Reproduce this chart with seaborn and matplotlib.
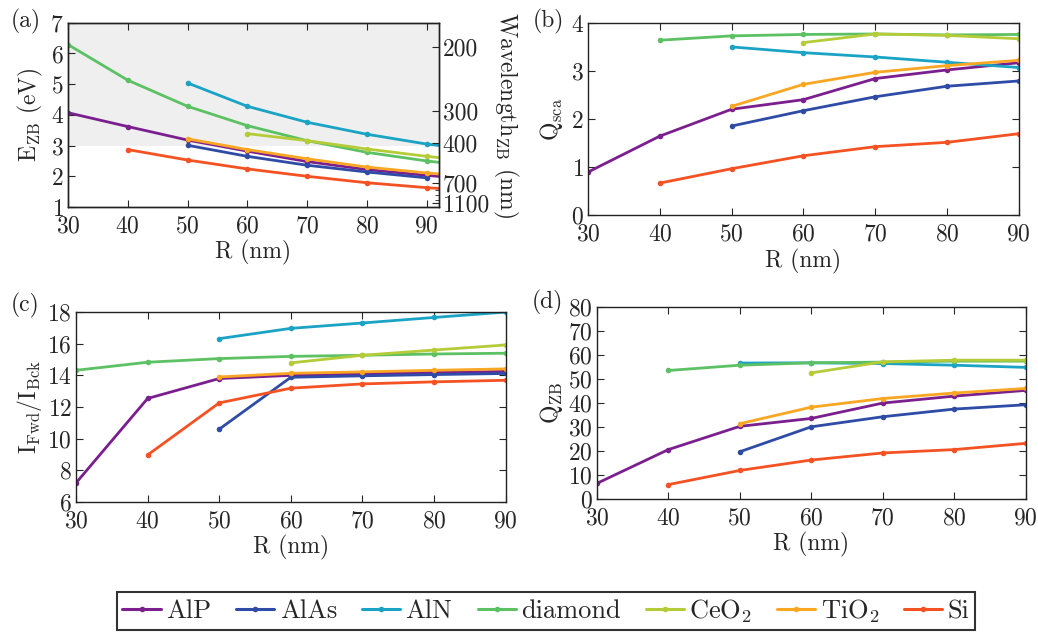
import numpy as np
import pandas as pd
import matplotlib
matplotlib.use("Agg")
import matplotlib.pyplot as plt
from matplotlib.lines import Line2D
import seaborn as sns

# Data
materials = ["AlP", "AlAs", "AlN", "diamond", "CeO2", "TiO2", "Si"]
labels = ["AlP", "AlAs", "AlN", "diamond", r"CeO$_2$", r"TiO$_2$", "Si"]
colors = ["#7B1F8E", "#2E4BA6", "#1AA3C4", "#5CC163", "#B5CB38", "#F9A623", "#F45223"]

R = [30, 40, 50, 60, 70, 80, 90]
R_a = [30, 40, 50, 60, 70, 80, 90, 100]

# (a) E_ZB (eV)
E_zb = {
    "AlP":     [4.07, 3.62, 3.18, 2.82, 2.48, 2.22, 2.03, 1.87],
    "AlAs":    [None, None, 3.01, 2.65, 2.36, 2.14, 1.95, None],
    "AlN":     [None, None, 5.04, 4.28, 3.76, 3.37, 3.05, 2.82],
    "diamond": [6.29, 5.13, 4.28, 3.65, 3.16, 2.78, 2.50, 2.28],
    "CeO2":    [None, None, None, 3.39, 3.16, 2.89, 2.65, 2.45],
    "TiO2":    [None, None, 3.22, 2.87, 2.57, 2.30, 2.11, 1.94],
    "Si":      [None, 2.87, 2.53, 2.24, 2.00, 1.79, 1.63, 1.50],
}

# (b) Q_sca
Q_sca = {
    "AlP":     [0.90, 1.65, 2.21, 2.41, 2.85, 3.03, 3.18],
    "AlAs":    [None, None, 1.86, 2.18, 2.47, 2.69, 2.80],
    "AlN":     [None, None, 3.51, 3.39, 3.30, 3.19, 3.08],
    "diamond": [None, 3.65, 3.74, 3.77, 3.78, 3.76, 3.77],
    "CeO2":    [None, None, None, 3.60, 3.78, 3.75, 3.68],
    "TiO2":    [None, None, 2.27, 2.73, 2.98, 3.12, 3.23],
    "Si":      [None, 0.67, 0.97, 1.24, 1.43, 1.52, 1.70],
}

# (c) I_Fwd / I_Bck
I_ratio = {
    "AlP":     [7.2, 12.54, 13.8, 14.0, 14.1, 14.18, 14.25],
    "AlAs":    [None, None, 10.6, 13.88, 13.97, 14.05, 14.12],
    "AlN":     [None, None, 16.32, 16.97, 17.31, 17.66, 18.0],
    "diamond": [14.32, 14.83, 15.06, 15.2, 15.27, 15.35, 15.4],
    "CeO2":    [None, None, None, 14.79, 15.27, 15.6, 15.92],
    "TiO2":    [None, None, 13.9, 14.13, 14.22, 14.32, 14.41],
    "Si":      [None, 8.97, 12.26, 13.19, 13.46, 13.59, 13.69],
}

# (d) Q_ZB
Q_zb = {
    "AlP":     [6.5, 20.6, 30.3, 33.6, 40.0, 42.9, 45.3],
    "AlAs":    [None, None, 19.7, 30.1, 34.3, 37.5, 39.3],
    "AlN":     [None, None, 56.7, 56.8, 56.5, 55.8, 54.9],
    "diamond": [None, 53.6, 55.8, 56.8, 57.1, 57.5, 57.5],
    "CeO2":    [None, None, None, 52.6, 57.2, 57.9, 57.9],
    "TiO2":    [None, None, 31.4, 38.3, 41.9, 44.2, 46.1],
    "Si":      [None, 6.0, 11.9, 16.25, 19.2, 20.6, 23.2],
}

wl_ticks = [200, 300, 400, 700, 1100]
wl_minor = [800, 900, 1000]


def to_long(table, radii):
    rows = []
    for m in materials:
        for r, v in zip(radii, table[m]):
            if v is not None:
                rows.append({"R": r, "value": v, "material": m})
    return pd.DataFrame(rows)


sns.set_style("ticks")
plt.rcParams.update({
    "font.family": "serif",
    "font.serif": ["cmr10", "DejaVu Serif"],
    "mathtext.fontset": "cm",
    "axes.unicode_minus": False,
    "axes.formatter.use_mathtext": True,
    "font.size": 17,
    "xtick.direction": "in",
    "ytick.direction": "in",
    "xtick.top": True,
    "ytick.right": True,
    "axes.linewidth": 1.0,
    "axes.edgecolor": "#222222",
})

fig = plt.figure(figsize=(10.38, 6.33), dpi=100)
ax_a = fig.add_axes([0.0655, 0.673, 0.357, 0.291])
ax_b = fig.add_axes([0.5665, 0.660, 0.415, 0.303])
ax_c = fig.add_axes([0.0732, 0.207, 0.414, 0.300])
ax_d = fig.add_axes([0.575, 0.2117, 0.413, 0.303])

palette = dict(zip(materials, colors))


def draw(ax, table, radii):
    df = to_long(table, radii)
    sns.lineplot(data=df, x="R", y="value", hue="material", hue_order=materials,
                 palette=palette, marker="o", markersize=4, markeredgewidth=0,
                 linewidth=2, estimator=None, legend=False, ax=ax)
    ax.set_xticks(R)
    ax.set_xlabel("R (nm)", labelpad=2)
    ax.tick_params(length=5, width=0.8, labelsize=17, pad=3)
    ax.tick_params(axis="x", pad=6)


# (a)
ax_a.axhspan(3, 7, color="#efefef", zorder=0, lw=0)
draw(ax_a, E_zb, R_a)
ax_a.set_xlim(30, 92)
ax_a.set_ylim(1, 7)
ax_a.set_yticks(range(1, 8))
ax_a.set_ylabel(r"E$_{\mathrm{ZB}}$ (eV)", labelpad=4)
ax_a.tick_params(right=False)
ax_r = ax_a.twinx()
ax_r.set_ylim(1, 7)
ax_r.set_yticks([1240 / w for w in wl_ticks])
ax_r.set_yticklabels([str(w) for w in wl_ticks])
ax_r.set_yticks([1240 / w for w in wl_minor], minor=True)
ax_r.tick_params(axis="y", which="major", direction="in", length=5, labelsize=17, pad=3)
ax_r.tick_params(axis="y", which="minor", direction="in", length=3)
ax_r.set_ylabel(r"Wavelength$_{\mathrm{ZB}}$ (nm)", rotation=270, labelpad=22)

# (b)
draw(ax_b, Q_sca, R)
ax_b.set_xlim(30, 90)
ax_b.set_ylim(0, 4)
ax_b.set_yticks(range(0, 5))
ax_b.set_ylabel(r"Q$_{\mathrm{sca}}$", labelpad=4)

# (c)
draw(ax_c, I_ratio, R)
ax_c.set_xlim(30, 90)
ax_c.set_ylim(6, 18)
ax_c.set_yticks(range(6, 19, 2))
ax_c.set_ylabel(r"I$_{\mathrm{Fwd}}$/I$_{\mathrm{Bck}}$", labelpad=2)

# (d)
draw(ax_d, Q_zb, R)
ax_d.set_xlim(30, 90)
ax_d.set_ylim(0, 80)
ax_d.set_yticks(range(0, 81, 10))
ax_d.set_ylabel(r"Q$_{\mathrm{ZB}}$", labelpad=2)

for txt, x, y in [("(a)", 0.010, 0.966), ("(b)", 0.513, 0.966),
                  ("(c)", 0.010, 0.518), ("(d)", 0.512, 0.522)]:
    fig.text(x, y, txt, fontsize=17, va="center")

handles = [Line2D([], [], color=c, marker="o", markersize=4, markeredgewidth=0, lw=2.2)
           for c in colors]
leg = fig.legend(handles, labels, ncol=7, loc="upper center",
                 bbox_to_anchor=(0.526, 0.065), fontsize=19, frameon=True,
                 fancybox=False, handlelength=1.45, handletextpad=0.2,
                 columnspacing=0.95, borderpad=0.2, borderaxespad=0)
leg.get_frame().set_edgecolor("black")
leg.get_frame().set_linewidth(1.5)

fig.savefig("out.png", dpi=100)
